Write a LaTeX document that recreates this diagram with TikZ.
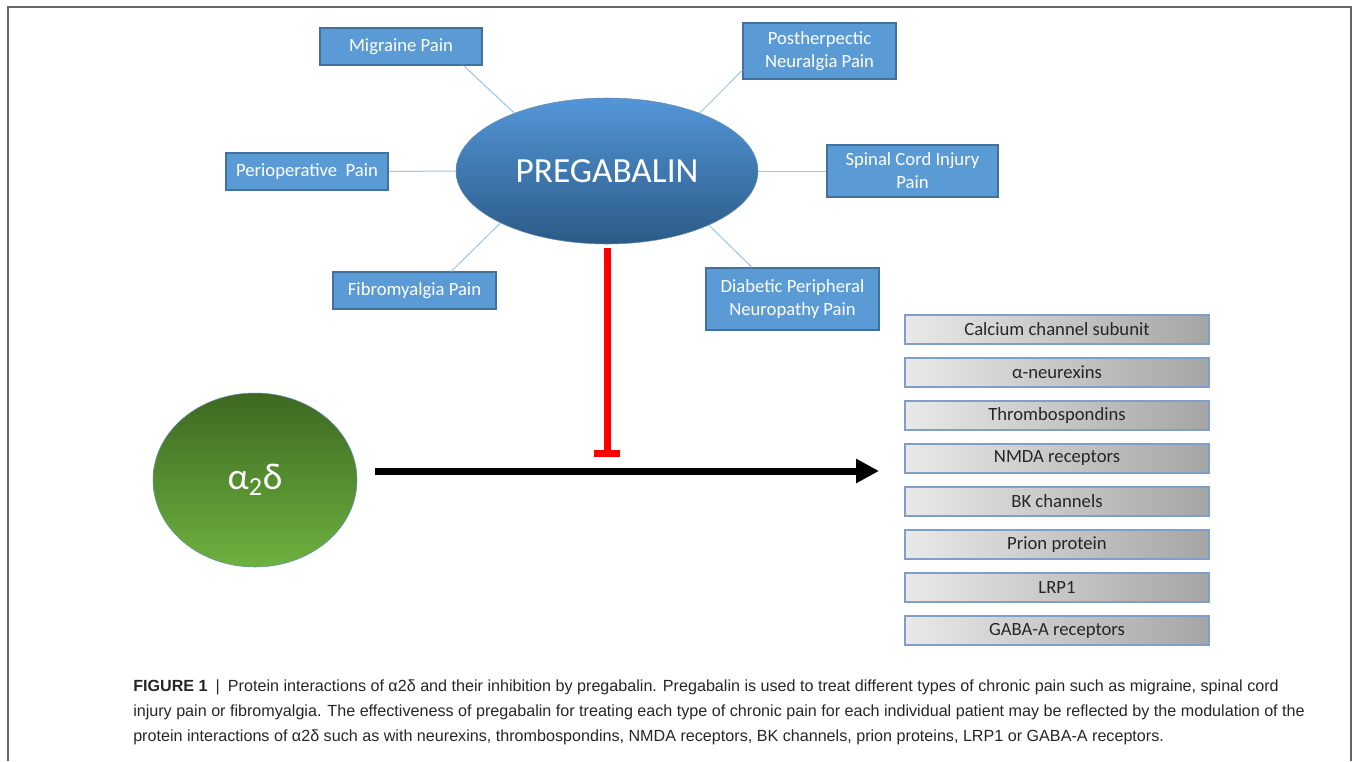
\documentclass[tikz,border=0pt]{standalone}
\usepackage{fontspec}
\setmainfont{Carlito}
\newfontfamily\capfont{Liberation Sans}
\usepackage{xcolor}
\usetikzlibrary{shapes.geometric}
\usetikzlibrary{arrows.meta}

\definecolor{painblue}{HTML}{5B9BD5}
\definecolor{painedge}{HTML}{41719C}
\definecolor{linkblue}{HTML}{9DC3E6}
\definecolor{pregtop}{HTML}{5396D8}
\definecolor{pregbot}{HTML}{2C5A86}
\definecolor{alphatop}{HTML}{3D6821}
\definecolor{alphabot}{HTML}{6DB23F}
\definecolor{partneredge}{HTML}{7F9FC8}
\definecolor{partnerleft}{HTML}{E9E9E9}
\definecolor{partnerright}{HTML}{A5A5A5}

\tikzset{
  painbox/.style={draw=painedge, fill=painblue, text=white, line width=0.8pt,
    inner sep=0pt, align=center, font=\fontsize{14}{17.25}\selectfont},
  partner/.style={draw=partneredge, left color=partnerleft, right color=partnerright,
    line width=0.8pt, minimum width=228pt, minimum height=21.75pt, inner sep=0pt,
    text=black!85, font=\fontsize{14}{17}\selectfont},
  link/.style={draw=linkblue, line width=0.75pt},
  inhibit/.style={red, line width=5.25pt, -{Bar[width=19.5pt]}},
  bind/.style={black, line width=5.25pt, -{Triangle[length=17.25pt,width=17.25pt]}},
  frame/.style={draw=black!60, line width=1.2pt}
}

\begin{document}
\begin{tikzpicture}[x=0.75pt,y=-0.75pt]
\useasboundingbox (0,0) rectangle (1354,761);
\draw[frame] (8,761) -- (8,7) -- (1351,7) -- (1351,761);

% drug and its indications
\node[ellipse, draw=painedge!80, line width=0.4pt, top color=pregtop, bottom color=pregbot,
  minimum width=226.5pt, minimum height=109.5pt, inner sep=0pt, text=white,
  font=\fontsize{26.5}{30}\selectfont] (preg) at (607,171) {PREGABALIN};

\node[painbox, minimum width=121.5pt, minimum height=27.75pt] (migraine) at (401,46.5) {Migraine Pain};
\node[painbox, minimum width=121.5pt, minimum height=27.75pt] (periop) at (307,171.5) {Perioperative \ Pain};
\node[painbox, minimum width=122.25pt, minimum height=27.75pt] (fibro) at (414.5,290.5) {Fibromyalgia Pain};
\node[painbox, minimum width=114.75pt, minimum height=42pt] (posther) at (819.5,51) {Postherpectic\\Neuralgia Pain};
\node[painbox, minimum width=128.25pt, minimum height=39pt] (spinal) at (912.5,171) {Spinal Cord Injury\\Pain};
\node[painbox, minimum width=129.75pt, minimum height=46.5pt] (diabetic) at (792.5,299) {Diabetic Peripheral\\Neuropathy Pain};

\draw[link] ([xshift=-14.25pt]migraine.south east) -- (preg.148);
\draw[link] (periop.east) -- (preg.west);
\draw[link] ([xshift=-34pt]fibro.north east) -- (preg.206);
\draw[link] ([yshift=7pt]posther.south west) -- (preg.32);
\draw[link] (preg.east) -- (spinal.west);
\draw[link] ([xshift=35pt]diabetic.north west) -- (preg.-28);

% alpha2delta and its partners
\node[ellipse, draw=painedge!80, line width=0.4pt, top color=alphatop, bottom color=alphabot,
  minimum width=153pt, minimum height=130.5pt, inner sep=0pt, text=white,
  font=\fontsize{28}{32}\selectfont] (alpha) at (255,480) {α\textsubscript{2}δ};

\node[partner] (calcium) at (1057,329.5) {Calcium channel subunit};
\node[partner] (neurexin) at (1057,372.5) {α-neurexins};
\node[partner] (thrombo) at (1057,415.5) {Thrombospondins};
\node[partner] (nmda) at (1057,458.5) {NMDA receptors};
\node[partner] (bk) at (1057,501.5) {BK channels};
\node[partner] (prion) at (1057,544.5) {Prion protein};
\node[partner] (lrp) at (1057,587.5) {LRP1};
\node[partner] (gaba) at (1057,630.5) {GABA-A receptors};

\coordinate (target) at (879,471);
\coordinate (block) at (607,457);
\draw[bind] ([xshift=13.5pt,yshift=6.75pt]alpha.east) -- (target);
\draw[inhibit] ([yshift=-3pt]preg.south) -- (block);

% caption
\node[anchor=north west, align=left, inner sep=0pt, text=black!85,
  font=\capfont\fontsize{12.1}{18.75}\selectfont] (caption) at (133,680)
  {\textbf{FIGURE 1}\enspace|\enspace Protein interactions of α2δ and their inhibition by pregabalin. Pregabalin is used to treat different types of chronic pain such as migraine, spinal cord\\
  injury pain or fibromyalgia. The effectiveness of pregabalin for treating each type of chronic pain for each individual patient may be reflected by the modulation of the\\
  protein interactions of α2δ such as with neurexins, thrombospondins, NMDA receptors, BK channels, prion proteins, LRP1 or GABA-A receptors.};
\end{tikzpicture}
\end{document}
